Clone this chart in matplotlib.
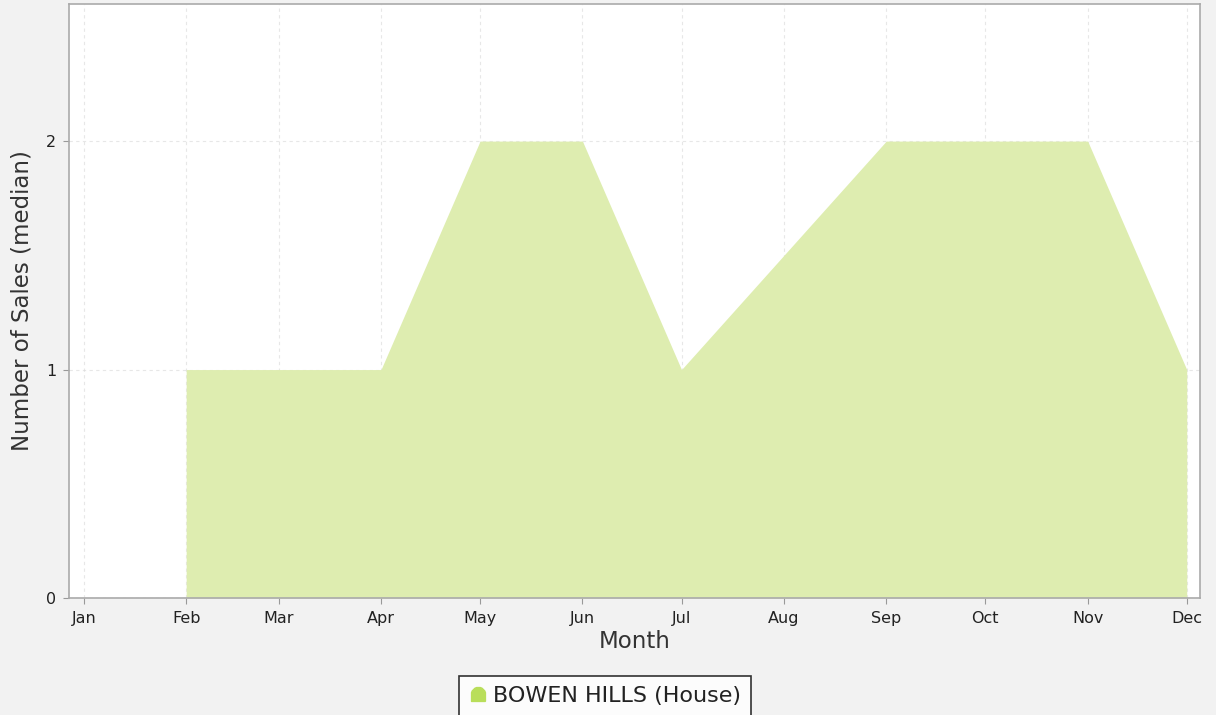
import matplotlib.pyplot as plt
import matplotlib.dates as mdates
from matplotlib.path import Path
import numpy as np
import pandas as pd

# monthly points on a date axis (year only sets the spacing of the months)
months = pd.date_range("2015-01-01", periods=12, freq="MS")
sales = [np.nan, 1, 1, 1, 2, 2, 1, 1.5, 2, 2, 2, 1]
series_name = "BOWEN HILLS (House)"

fill_color = "#deedb0"
marker_color = "#b9de5a"

fig = plt.figure(figsize=(12.16, 7.15), dpi=100, facecolor="#f2f2f2")
ax = fig.add_axes([0.0567, 0.1636, 0.9301, 0.8308])
ax.set_facecolor("white")

x = mdates.date2num(months.to_pydatetime())
y = np.array(sales, dtype=float)
ax.fill_between(x, 0, y, where=~np.isnan(y), color=fill_color, linewidth=0, zorder=2)

ax.set_xlim(x[0] - 4.5, x[0] + 338)
ax.set_ylim(0, 2.6)
ax.set_xticks(x)
ax.xaxis.set_major_formatter(mdates.DateFormatter("%b"))
ax.set_yticks([0, 1, 2])
ax.set_yticklabels(["0", "1", "2"])
ax.tick_params(labelsize=11.5, length=4, color="#999999", pad=5, labelcolor="#222222")

ax.grid(True, color="#d8d8d8", linestyle=(0, (3, 3)), linewidth=0.8)
for line in ax.get_xgridlines() + ax.get_ygridlines():
    line.set_zorder(3)
    line.set_alpha(0.6)

for s in ax.spines.values():
    s.set_color("#aaaaaa")
    s.set_linewidth(1.2)

ax.set_xlabel("Month", fontsize=16.5, color="#333333", labelpad=3)
ax.set_ylabel("Number of Sales (median)", fontsize=16.5, color="#333333", labelpad=9)

# legend shape: box with a rounded top
arc = Path.arc(0, 180)
verts = np.vstack([[[1, -1]], arc.vertices, [[-1, -1], [1, -1]]])
bell = Path(verts)
handle = plt.Line2D([], [], marker=bell, linestyle="none", color=marker_color, markersize=10)
leg = fig.legend([handle], [series_name], loc="upper center", bbox_to_anchor=(0.4975, 0.055),
                 fontsize=16, frameon=True, fancybox=False, handletextpad=0.3,
                 borderpad=0.45, handlelength=0.8, borderaxespad=0)
leg.get_frame().set_edgecolor("black")
leg.get_frame().set_linewidth(1.2)
leg.get_frame().set_facecolor("white")
for t in leg.get_texts():
    t.set_color("#222222")

fig.savefig("out.png", dpi=100, facecolor=fig.get_facecolor())
